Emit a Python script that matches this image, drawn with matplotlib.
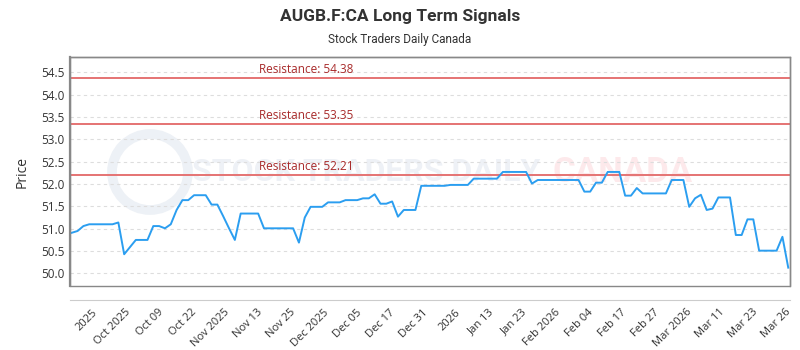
import matplotlib
matplotlib.use("Agg")
import matplotlib.pyplot as plt
from matplotlib.patches import Rectangle, Circle
import numpy as np
from matplotlib import font_manager

# ---- data ----
prices = [
    50.91, 50.95, 51.06, 51.10, 51.10, 51.10, 51.10, 51.10, 51.14, 50.43,
    50.59, 50.75, 50.75, 50.75, 51.06, 51.06, 51.01, 51.10, 51.42, 51.64,
    51.64, 51.75, 51.75, 51.75, 51.54, 51.54, 51.28, 51.01, 50.75, 51.34,
    51.34, 51.34, 51.34, 51.01, 51.01, 51.01, 51.01, 51.01, 51.01, 50.69,
    51.25, 51.49, 51.49, 51.49, 51.59, 51.59, 51.59, 51.64, 51.64, 51.64,
    51.68, 51.68, 51.77, 51.56, 51.56, 51.61, 51.27, 51.42, 51.42, 51.42,
    51.96, 51.96, 51.96, 51.96, 51.96, 51.98, 51.98, 51.98, 51.98, 52.12,
    52.12, 52.12, 52.12, 52.12, 52.27, 52.27, 52.27, 52.27, 52.27, 52.01,
    52.09, 52.09, 52.09, 52.09, 52.09, 52.09, 52.09, 52.09, 51.83, 51.83,
    52.03, 52.03, 52.27, 52.27, 52.27, 51.74, 51.74, 51.91, 51.79, 51.79,
    51.79, 51.79, 51.79, 52.09, 52.09, 52.09, 51.49, 51.68, 51.76, 51.42,
    51.45, 51.70, 51.70, 51.70, 50.86, 50.86, 51.21, 51.21, 50.51, 50.51,
    50.51, 50.51, 50.82, 50.13,
]
resistance = [54.38, 53.35, 52.21]
tick_labels = ["2025", "Oct 2025", "Oct 09", "Oct 22", "Nov 2025", "Nov 13",
               "Nov 25", "Dec 2025", "Dec 05", "Dec 17", "Dec 31", "2026",
               "Jan 13", "Jan 23", "Feb 2026", "Feb 04", "Feb 17", "Feb 27",
               "Mar 2026", "Mar 11", "Mar 23", "Mar 26"]
y_ticks = [50.0, 50.5, 51.0, 51.5, 52.0, 52.5, 53.0, 53.5, 54.0, 54.5]

names = {f.name for f in font_manager.fontManager.ttflist}
narrow = "Liberation Sans Narrow" if "Liberation Sans Narrow" in names else "Roboto"
plt.rcParams['font.family'] = ['Open Sans', 'DejaVu Sans']

W, H = 800, 350
fig = plt.figure(figsize=(8, 3.5), dpi=100)
L, R, T, B = 70, 790, 57, 286
ax = fig.add_axes([L / W, 1 - B / H, (R - L) / W, (B - T) / H])

# spines first (set_position resets ticks)
for s in ['top', 'left', 'right']:
    ax.spines[s].set_color('#888888')
    ax.spines[s].set_linewidth(1)
ax.spines['left'].set_linewidth(1.6)
ax.spines['bottom'].set_position(('outward', 10))
ax.spines['bottom'].set_color('#cccccc')
ax.add_patch(Rectangle((0, 0), 1, 1, transform=ax.transAxes, fill=False,
                       ec='#888888', lw=1, clip_on=False, zorder=5))

x = np.arange(len(prices))
ax.set_xlim(-0.3, len(prices) - 0.7)
ax.set_ylim(49.72, 54.84)

# watermark (behind the axes)
fig.patches.append(Circle((150, H - 172), 38, transform=None, fill=False,
                          ec='#edf1f6', lw=7, zorder=-2))
fig.text(0.458, 1 - 172 / H, "STOCK TRADERS DAILY", ha='center', va='center',
         fontsize=23, color='#eef1f6', family=[narrow, 'DejaVu Sans'],
         fontweight='bold', zorder=-2)
fig.text(0.778, 1 - 172 / H, "CANADA", ha='center', va='center',
         fontsize=25, color='#fde9eb', family=[narrow, 'DejaVu Sans'],
         fontweight='bold', zorder=-2)

ax.set_facecolor('none')
ax.set_yticks(y_ticks)
ax.set_yticklabels([f"{v:.1f}" for v in y_ticks])
ax.yaxis.grid(True, linestyle=(0, (3, 3)), color='#dddddd', lw=0.8)
ax.set_axisbelow(True)

for r in resistance:
    ax.axhline(r, color='#e57373', lw=1.4, zorder=2)
    ax.text(0.2625, r + 0.04, f"Resistance: {r:.2f}", transform=ax.get_yaxis_transform(),
            color='#a82a2a', fontsize=8.5, ha='left', va='bottom', zorder=3)

ax.plot(x, prices, color='#2b9ef0', lw=1.4, zorder=4)

tick_pos = np.linspace(3.5, 122.5, len(tick_labels))
ax.set_xticks(tick_pos)
ax.set_xticklabels(tick_labels, rotation=45, ha='right', va='top',
                   rotation_mode='anchor')
ax.tick_params(axis='x', length=0, pad=5, labelsize=8, labelcolor='#333333')
ax.tick_params(axis='y', length=0, pad=4, labelsize=8.5, labelcolor='#333333')

ax.set_ylabel("Price", fontsize=10, color='#333333', labelpad=8)

fig.text(0.5, 1 - 16 / H, "AUGB.F:CA Long Term Signals", ha='center', va='center',
         fontsize=12.5, fontweight='bold', color='#333333', family=[narrow, 'DejaVu Sans'])
fig.text(0.5, 1 - 40 / H, "Stock Traders Daily Canada", ha='center', va='center',
         fontsize=8.5, color='#333333', family=[narrow, 'DejaVu Sans'])

fig.savefig("out.png", dpi=100)
